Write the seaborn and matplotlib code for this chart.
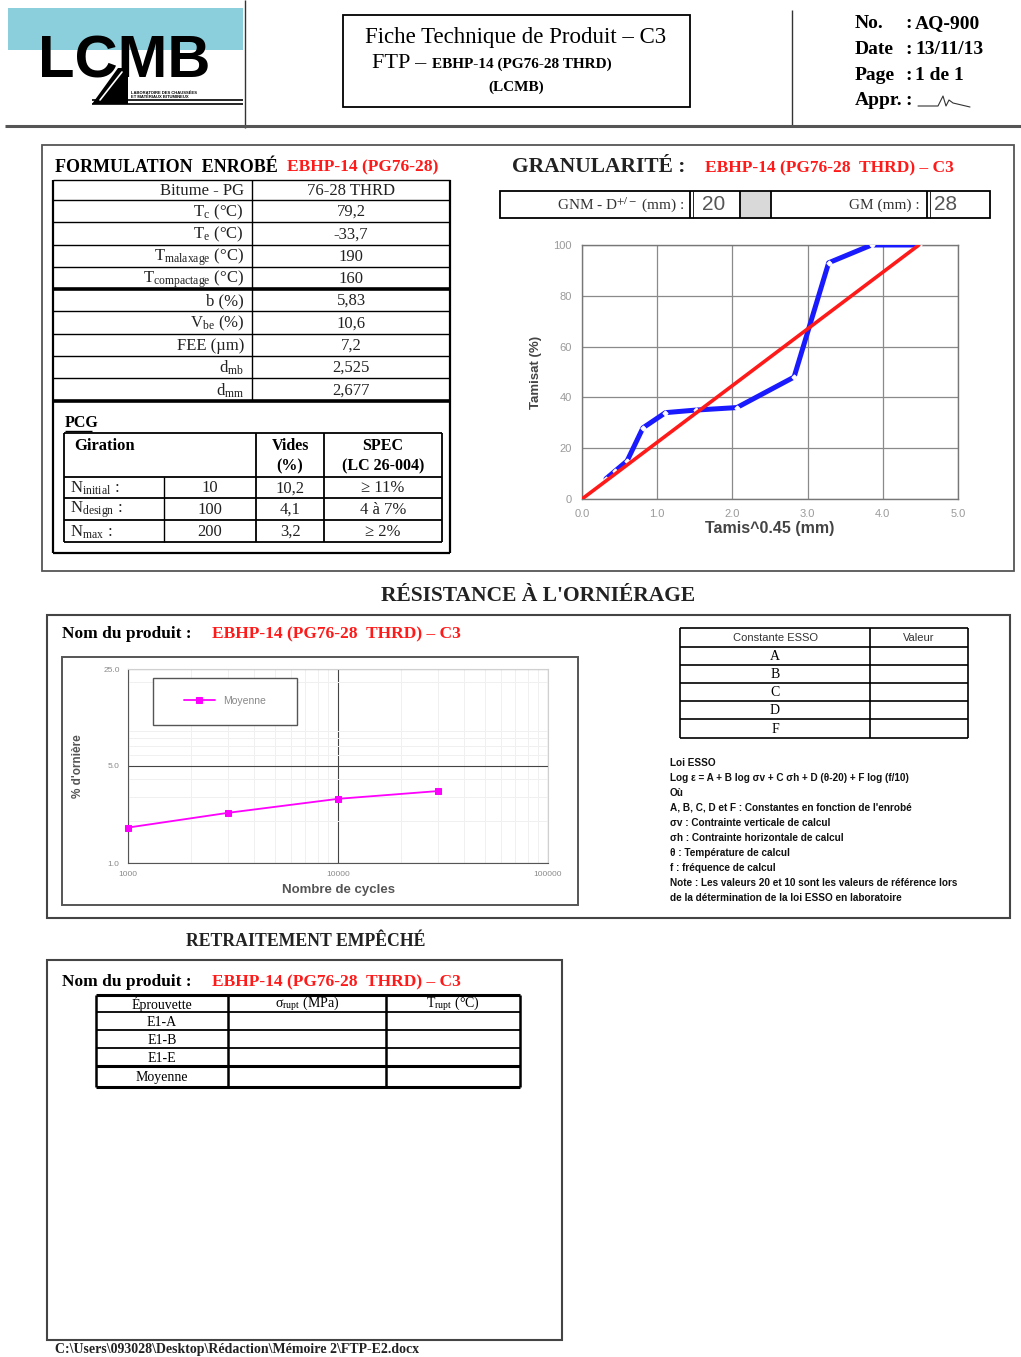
import numpy as np
import pandas as pd
import matplotlib
matplotlib.use("Agg")
import matplotlib.pyplot as plt
import seaborn as sns
from matplotlib.patches import Rectangle, Polygon
from matplotlib.ticker import FixedLocator, FixedFormatter, MultipleLocator, LogLocator, NullFormatter

# ---------------- data ----------------
header_fields = ["No.", "Date", "Page", "Appr."]
header_values = ["AQ-900", "13/11/13", "1 de 1", ""]
doc_title = "Fiche Technique de Produit – C3"
product = "EBHP-14 (PG76-28 THRD)"
product_c3 = "EBHP-14 (PG76-28  THRD) – C3"

form_labels = ["Bitume - PG", r"T$_\mathregular{c}$ (°C)", r"T$_\mathregular{e}$ (°C)",
               r"T$_\mathregular{malaxage}$ (°C)", r"T$_\mathregular{compactage}$ (°C)",
               "b (%)", r"V$_\mathregular{be}$ (%)", "FEE (µm)",
               r"d$_\mathregular{mb}$", r"d$_\mathregular{mm}$"]
form_values = ["76-28 THRD", "79,2", "-33,7", "190", "160", "5,83", "10,6", "7,2", "2,525", "2,677"]

pcg_names = [r"N$_\mathregular{initial}$ :", r"N$_\mathregular{design}$ :", r"N$_\mathregular{max}$ :"]
pcg_girations = ["10", "100", "200"]
pcg_voids = ["10,2", "4,1", "3,2"]
pcg_spec = ["≥ 11%", "4 à 7%", "≥ 2%"]

gnm_value = "20"
gm_value = "28"

grad_x = [0.32, 0.44, 0.60, 0.81, 1.11, 1.51, 2.06, 2.82, 3.28, 3.85, 4.48]   # tamis^0.45
grad_pass = [8, 11, 15, 28, 34, 35, 36, 48, 93, 100, 100]                    # tamisat %
maxden_x = [0.0, 4.48]
maxden_y = [0, 100]
grad_xticks = [0, 1, 2, 3, 4, 5]
grad_xticklabels = ["0.0", "1.0", "2.0", "3.0", "4.0", "5.0"]
grad_yticks = [0, 20, 40, 60, 80, 100]

rut_cycles = [1000, 3000, 10000, 30000]
rut_depth = [1.8, 2.3, 2.9, 3.3]
rut_xticks = [1000, 10000, 100000]
rut_xticklabels = ["1000", "10000", "100000"]
rut_yticks = [1, 5, 25]
rut_yticklabels = ["1.0", "5.0", "25.0"]

esso_constants = ["A", "B", "C", "D", "F"]
esso_notes = ["Loi ESSO",
              "Log ε = A + B log σv + C σh + D (θ-20) + F log (f/10)",
              "Où",
              "A, B, C, D et F : Constantes en fonction de l'enrobé",
              "σv : Contrainte verticale de calcul",
              "σh : Contrainte horizontale de calcul",
              "θ : Température de calcul",
              "f : fréquence de calcul",
              "Note : Les valeurs 20 et 10 sont les valeurs de référence lors",
              "de la détermination de la loi ESSO en laboratoire"]

retrait_header = ["Éprouvette", r"σ$_\mathregular{rupt}$ (MPa)", r"T$_\mathregular{rupt}$ (°C)"]
retrait_rows = ["E1-A", "E1-B", "E1-E", "Moyenne"]
footer_path = r"C:\Users\093028\Desktop\Rédaction\Mémoire 2\FTP-E2.docx"

# ---------------- setup ----------------
sns.set_style("white")
plt.rcParams["font.family"] = ["Liberation Serif", "DejaVu Sans"]
plt.rcParams["mathtext.fontset"] = "stix"
SERIF = ["Liberation Serif", "DejaVu Sans"]
SANS = ["Liberation Sans", "DejaVu Sans"]
RED = "#ff1a1a"

W, H = 1021, 1357
fig = plt.figure(figsize=(W / 100, H / 100), dpi=100)
fig.patch.set_facecolor("white")
bg = fig.add_axes([0, 0, 1, 1])
bg.set_xlim(0, W)
bg.set_ylim(H, 0)
bg.axis("off")


def ax_at(x0, y0, x1, y1):
    return fig.add_axes([x0 / W, 1 - y1 / H, (x1 - x0) / W, (y1 - y0) / H])


def txt(x, y, s, size=10, ha="left", va="center", weight="normal", color="black", family=None, **kw):
    bg.text(x, y, s, fontsize=size, ha=ha, va=va, fontweight=weight, color=color,
            family=family or SERIF, **kw)


def hl(x0, x1, y, lw=1.0, color="black"):
    bg.plot([x0, x1], [y, y], color=color, lw=lw, solid_capstyle="butt")


def vl(x, y0, y1, lw=1.0, color="black"):
    bg.plot([x, x], [y0, y1], color=color, lw=lw, solid_capstyle="butt")


def rect(x0, y0, x1, y1, lw=1.0, ec="black", fc="none", z=1):
    bg.add_patch(Rectangle((x0, y0), x1 - x0, y1 - y0, lw=lw, ec=ec, fc=fc, zorder=z))


# ---------------- header ----------------
rect(8, 8, 243, 50, lw=0, ec="none", fc="#8ccfdc", z=0)
txt(38, 78, "LCMB", size=43, weight="bold", family=SANS, va="baseline")
bg.add_patch(Polygon([(92, 104), (118, 68), (128, 68), (128, 104)], closed=True, fc="black", ec="none", zorder=3))
bg.plot([100, 122], [100, 72], color="white", lw=1.2, zorder=4)
hl(92, 243, 100, lw=1.2)
hl(92, 243, 104, lw=1.2)
txt(131, 93.5, "LABORATOIRE DES CHAUSSÉES", size=3.0, family=SANS, weight="bold")
txt(131, 97.5, "ET MATÉRIAUX BITUMINEUX", size=3.0, family=SANS, weight="bold")
vl(245, 0, 128, lw=1.0, color="#333")
vl(792, 10, 125, lw=1.0, color="#333")
hl(5, 1021, 126, lw=2.2, color="#555")

rect(343, 15, 690, 107, lw=1.3)
txt(516, 38, doc_title, size=16.5, ha="center")
txt(432, 63, "FTP – ", size=16, ha="right")
txt(432, 64, product, size=11, ha="left", weight="bold")
txt(516, 87, "(LCMB)", size=11, ha="center", weight="bold")

for i, (f, v) in enumerate(zip(header_fields, header_values)):
    y = 24 + i * 25.5
    txt(855, y, f, size=14, weight="bold")
    txt(905, y, ":", size=14, weight="bold")
    if v:
        txt(915, y, v, size=14, weight="bold")
bg.plot([918, 938, 943, 946, 949, 953, 970], [106, 106, 96, 106, 100, 103, 107], color="#333", lw=0.8)

# ---------------- formulation ----------------
rect(42, 145, 1014, 571, lw=1.3, ec="#555")
txt(55, 167, "FORMULATION  ENROBÉ", size=13, weight="bold")
txt(287, 167, "EBHP-14 (PG76-28)", size=12.5, weight="bold", color=RED)

row_edges = [180, 200, 222, 245, 267, 289, 311, 334, 356, 378, 401]
for i, y in enumerate(row_edges):
    lw = 2.6 if y in (289, 401) else 1.0
    hl(53, 450, y, lw=lw)
vl(53, 180, 553, lw=1.6)
vl(450, 180, 553, lw=1.6)
hl(53, 450, 553, lw=1.6)
vl(252, 180, 401, lw=1.0)
for i, (lab, val) in enumerate(zip(form_labels, form_values)):
    yc = (row_edges[i] + row_edges[i + 1]) / 2 + 1
    txt(244, yc, lab, size=12, ha="right", color="#222")
    txt(351, yc, val, size=12, ha="center", color="#222")

txt(65, 423, "PCG", size=11.5, weight="bold")
hl(65, 92, 431, lw=1.0)
pcg_rows = [433, 477, 498, 520, 542]
for y in pcg_rows:
    hl(64, 442, y, lw=1.3)
vl(64, 433, 542, lw=1.3)
vl(442, 433, 542, lw=1.3)
vl(164, 477, 542, lw=1.0)
vl(256, 433, 542, lw=1.3)
vl(324, 433, 542, lw=1.3)
txt(74, 446, "Giration", size=12, weight="bold")
txt(290, 446, "Vides", size=11.5, weight="bold", ha="center")
txt(290, 466, "(%)", size=11.5, weight="bold", ha="center")
txt(383, 446, "SPEC", size=11.5, weight="bold", ha="center")
txt(383, 466, "(LC 26-004)", size=11.5, weight="bold", ha="center")
for i in range(3):
    yc = (pcg_rows[i + 1] + pcg_rows[i + 2]) / 2 + 1
    txt(70, yc, pcg_names[i], size=12, color="#222")
    txt(210, yc, pcg_girations[i], size=12, ha="center", color="#222")
    txt(290, yc, pcg_voids[i], size=12, ha="center", color="#222")
    txt(383, yc, pcg_spec[i], size=12, ha="center", color="#222")

# ---------------- granularité ----------------
txt(512, 167, "GRANULARITÉ :", size=15.5, weight="bold", color="#222")
txt(705, 168, product_c3, size=12.5, weight="bold", color=RED)
rect(500, 191, 990, 218, lw=1.3)
rect(740, 192, 771, 217, lw=0, ec="none", fc="#d9d9d9")
for x in (690, 740, 771, 927):
    vl(x, 191, 218, lw=1.3)
vl(693, 191, 218, lw=0.6)
vl(930, 191, 218, lw=0.6)
txt(684, 205, r"GNM - D$^{+/-}$ (mm) :", size=11, ha="right", color="#333")
txt(714, 205, gnm_value, size=15, ha="center", color="#555", family=SANS)
txt(920, 205, "GM (mm) :", size=11, ha="right", color="#333")
txt(946, 205, gm_value, size=15, ha="center", color="#555", family=SANS)

gax = ax_at(582, 245, 958, 499)
sns.lineplot(data=pd.DataFrame({"x": grad_x, "y": grad_pass}), x="x", y="y", ax=gax,
             color="#1a1aff", lw=3.6, marker="D", markersize=2.6, markerfacecolor="white",
             markeredgecolor="white", zorder=3)
sns.lineplot(data=pd.DataFrame({"x": maxden_x, "y": maxden_y}), x="x", y="y", ax=gax,
             color=RED, lw=2.6, zorder=4)
gax.set_xlim(0, 5)
gax.set_ylim(0, 100)
gax.xaxis.set_major_locator(FixedLocator(grad_xticks))
gax.xaxis.set_major_formatter(FixedFormatter(grad_xticklabels))
gax.xaxis.set_minor_locator(MultipleLocator(0.25))
gax.yaxis.set_major_locator(FixedLocator(grad_yticks))
gax.grid(True, which="major", color="#8a8a8a", lw=0.9)
gax.tick_params(axis="both", which="major", labelsize=8, labelcolor="#9a9a9a", length=4,
                color="#888", direction="out", labelfontfamily="Liberation Sans")
gax.tick_params(axis="x", which="minor", length=3, color="#888", direction="out")
for s in gax.spines.values():
    s.set_color("#777")
    s.set_linewidth(1.0)
gax.set_xlabel("Tamis^0.45 (mm)", fontsize=11.5, color="#444", family=SANS, weight="bold", labelpad=1)
gax.set_ylabel("Tamisat (%)", fontsize=9.5, color="#444", family=SANS, weight="bold", labelpad=8)

# ---------------- résistance à l'orniérage ----------------
txt(538, 596, "RÉSISTANCE À L'ORNIÉRAGE", size=15.5, ha="center", weight="bold", color="#222")
rect(47, 615, 1010, 918, lw=1.5, ec="#444")
txt(62, 634, "Nom du produit :", size=12.5, weight="bold")
txt(212, 634, product_c3, size=12.5, weight="bold", color=RED)
rect(62, 657, 578, 905, lw=1.4, ec="#555")

rax = ax_at(128, 669, 548, 863)
sns.lineplot(x=rut_cycles, y=rut_depth, ax=rax, color="#ff00ff", lw=1.3, marker="s",
             markersize=5, markeredgecolor="#ff00ff", label="Moyenne", clip_on=False, zorder=4)
rax.set_xscale("log")
rax.set_yscale("log")
rax.set_xlim(1000, 100000)
rax.set_ylim(1, 25)
rax.xaxis.set_major_locator(FixedLocator(rut_xticks))
rax.xaxis.set_major_formatter(FixedFormatter(rut_xticklabels))
rax.xaxis.set_minor_locator(LogLocator(base=10, subs=range(2, 10)))
rax.xaxis.set_minor_formatter(NullFormatter())
rax.yaxis.set_major_locator(FixedLocator(rut_yticks))
rax.yaxis.set_major_formatter(FixedFormatter(rut_yticklabels))
rax.yaxis.set_minor_locator(LogLocator(base=10, subs=range(2, 10)))
rax.yaxis.set_minor_formatter(NullFormatter())
rax.grid(True, which="major", color="#444", lw=0.8)
rax.grid(True, which="minor", color="#f0f0f0", lw=0.7)
rax.tick_params(axis="both", which="major", labelsize=6, labelcolor="#8a8a8a", length=0, pad=6,
                labelfontfamily="Liberation Sans")
rax.tick_params(axis="both", which="minor", length=0)
for k, s in rax.spines.items():
    s.set_color("#555" if k in ("left", "bottom") else "#d0d0d0")
rax.set_xlabel("Nombre de cycles", fontsize=9.5, color="#555", family=SANS, weight="bold", labelpad=4)
rax.set_ylabel("% d'ornière", fontsize=8.5, color="#555", family=SANS, weight="bold", labelpad=14)
rax.add_patch(Rectangle((25 / 420, (863 - 725) / 194), 144 / 420, 47 / 194, transform=rax.transAxes,
                        fc="white", ec="#555", lw=1.0, zorder=5))
leg = rax.legend(loc="center", bbox_to_anchor=(97 / 420, (863 - 701) / 194), frameon=False,
                 handlelength=3.0, labelcolor="#888",
                 prop={"family": "Liberation Sans", "size": 7.5})
leg.set_zorder(6)

# ESSO table
esso_rows = [628, 647, 665, 683, 701, 719, 738]
for y in esso_rows:
    hl(680, 968, y, lw=1.2)
vl(680, 628, 738, lw=1.2)
vl(968, 628, 738, lw=1.2)
vl(870, 628, 738, lw=1.2)
txt(775, 638, "Constante ESSO", size=8, ha="center", family=SANS, color="#333")
txt(919, 638, "Valeur", size=8, ha="center", family=SANS, color="#333")
for i, c in enumerate(esso_constants):
    txt(775, (esso_rows[i + 1] + esso_rows[i + 2]) / 2 + 1, c, size=10, ha="center")
for i, line in enumerate(esso_notes):
    txt(670, 763 + i * 15, line, size=7.2, family=SANS, color="#111", weight="bold")

# ---------------- retraitement empêché ----------------
txt(306, 942, "RETRAITEMENT EMPÊCHÉ", size=12.8, ha="center", weight="bold", color="#222")
rect(47, 960, 562, 1340, lw=1.5, ec="#444")
txt(62, 982, "Nom du produit :", size=12.5, weight="bold")
txt(212, 982, product_c3, size=12.5, weight="bold", color=RED)
ret_rows = [995, 1012, 1030, 1048, 1066, 1087]
for y in ret_rows:
    hl(96, 520, y, lw=2.2 if y in (995, 1066, 1087) else 1.3)
for x in (96, 228, 386, 520):
    vl(x, 995, 1087, lw=1.8)
for j, h in enumerate(retrait_header):
    txt([162, 307, 453][j], 1004, h, size=10, ha="center")
for i, r in enumerate(retrait_rows):
    txt(162, (ret_rows[i + 1] + ret_rows[i + 2]) / 2 + 1, r, size=10, ha="center")

txt(55, 1350, footer_path, size=10, weight="bold", color="#222")

fig.savefig("out.png", dpi=100, facecolor="white")
